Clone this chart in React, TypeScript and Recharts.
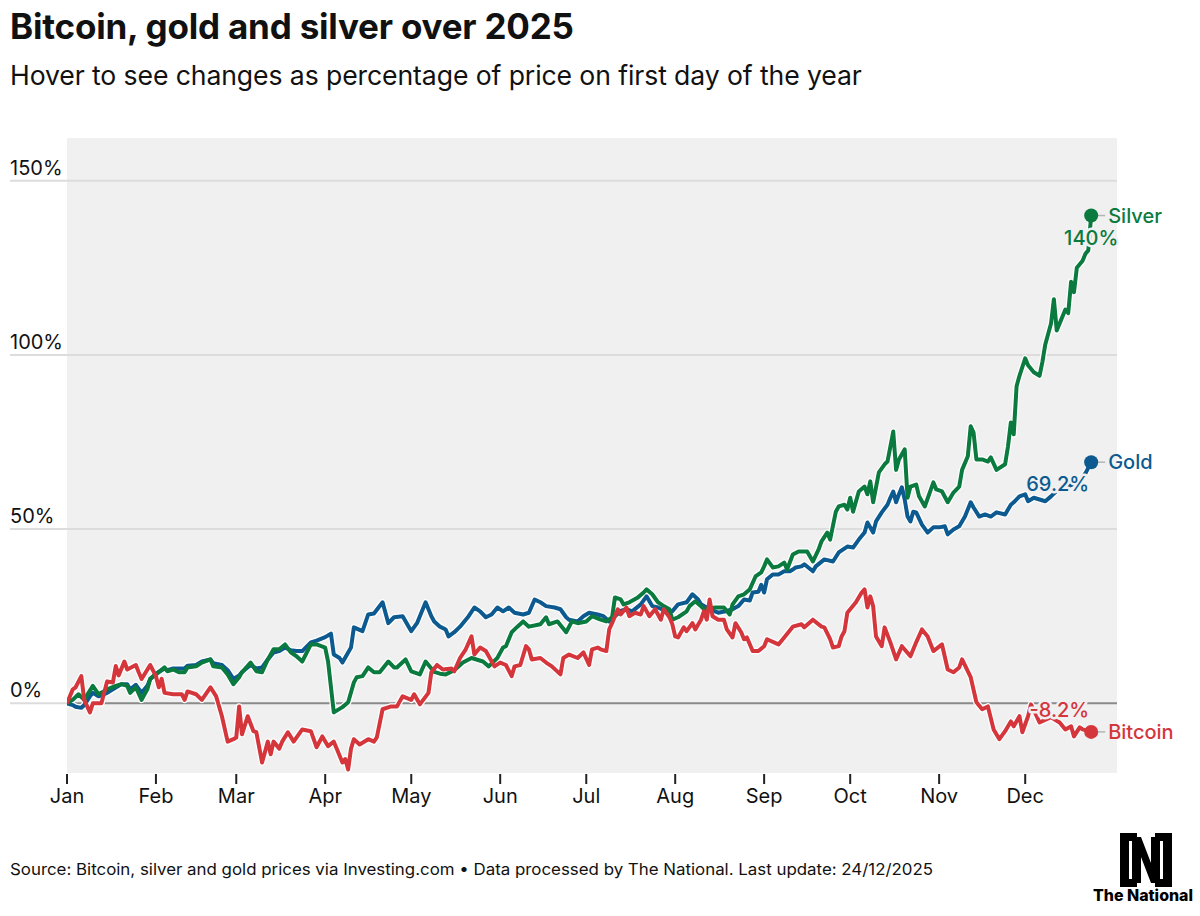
import React from 'react';
import { LineChart, Line, XAxis, YAxis, CartesianGrid, ReferenceLine, ReferenceDot } from 'recharts';

// ---------- DATA (day 0 = 1 Jan 2025; values = % change vs first day) ----------
const monthTicks = [0, 31, 59, 90, 120, 151, 181, 212, 243, 273, 304, 334];
const monthLabels = ['Jan', 'Feb', 'Mar', 'Apr', 'May', 'Jun', 'Jul', 'Aug', 'Sep', 'Oct', 'Nov', 'Dec'];
const yTicks = [0, 50, 100, 150];

const bitcoinDays = [0,2,3,5,6,8,9,12,14,16,17,18,20,21,24,25,26,29,31,32,33,34,37,40,41,42,45,47,50,52,54,56,58,59,60,61,63,65,66,68,70,71,72,74,75,77,79,82,85,87,89,91,93,94,96,97,98,99,100,102,105,107,108,110,113,115,117,120,121,123,126,127,129,131,134,135,137,139,141,142,144,146,149,151,153,155,156,158,160,161,162,165,167,169,172,173,175,178,180,182,183,185,186,188,189,190,192,193,195,196,198,200,201,203,205,207,208,210,211,212,213,215,216,218,219,221,222,223,224,225,227,229,230,232,233,235,236,237,239,241,243,244,248,250,253,256,257,260,263,264,266,267,269,270,271,272,275,277,278,279,280,281,282,284,285,287,289,291,294,296,298,300,302,305,307,309,311,312,315,317,319,321,323,325,327,329,330,332,333,335,336,338,339,343,346,348,350,351,353,354,357];
const bitcoinValues = [0,4,4.6,7.8,1,-2.6,0,0,6.3,6,10.7,8,12,9.7,11,8.9,7,11,7.8,4.6,7,3,2.6,2.6,1,3.4,2.6,1,4.6,2,-3.7,-11,-10.3,-9.8,-0.9,-8.9,-3.7,-8,-8.3,-17,-11,-14.6,-11,-13,-11,-8.3,-11,-7.5,-8,-12.6,-9.5,-12.3,-11,-13,-17,-16,-19,-13,-10.3,-11.8,-10.3,-11,-9.8,-1.7,-0.9,-0.9,2,1,2.6,-0.3,3,8.9,11,9.7,10,9.2,13,15.5,19.2,14,16,15,10.6,11.7,11,7.8,10.6,11,16.4,15.5,12.6,13,11.7,10.6,8.3,13,14,13,14.6,11,15.5,16,15.5,15,21.2,23,27,25.5,27.5,25,26,25.5,27.9,25,27,24,27,24.7,22.7,19.2,18.9,21.8,20.7,23,21.2,24,26.4,24,29.8,25,24,24,21.2,18.9,23,20.4,18.4,18.9,15,15,16.4,18.4,16.9,18.9,22,22.7,21.8,24,22,21.8,18.4,16,16.4,19.2,20.7,26,29,31.8,32.7,27.5,30.7,27.9,19.2,16.4,21.8,17.5,12.6,16.4,13.5,17.5,21.2,19.2,15,16.9,9.7,8.9,10.3,12.6,7.5,0.3,-1.7,-0.9,-7.5,-10.3,-8,-5.2,-6.6,-3.7,-8.3,-3.7,-0.3,-3.7,-5.5,-4,-5.5,-7.5,-6.6,-9.5,-6.9,-7.5,-8.2];

const silverDays = [0,2,4,6,9,11,14,17,19,21,22,24,26,28,29,31,34,35,37,39,41,42,45,47,50,51,54,56,58,60,61,64,66,68,70,72,74,76,78,80,82,85,87,90,91,93,96,98,100,101,103,105,107,109,112,114,115,118,120,123,125,128,130,132,135,138,141,145,147,150,152,153,155,157,159,161,165,167,168,171,174,176,178,181,183,186,188,190,191,193,194,196,199,201,202,204,206,208,210,211,213,216,217,219,221,222,226,229,231,232,234,236,238,240,242,243,244,246,248,250,251,253,255,258,260,262,263,265,266,268,269,271,272,273,274,276,278,279,280,281,283,285,286,287,288,289,290,292,293,294,296,297,299,302,303,305,307,309,311,312,314,315,316,317,319,321,322,324,327,328,329,330,331,332,334,335,337,339,340,341,343,344,345,347,348,349,350,351,352,354,355,356,357];
const silverValues = [0,1,2.6,1,5,2.6,4,5,5.5,5,3,4.6,1,4,7,8.3,10.3,9.2,9.7,8.9,8.9,10.3,10.6,11.7,12.6,10.6,10.3,8.3,5.5,7.5,8.9,11.7,9.2,8.9,12.6,15.5,15.5,16.9,14.6,13.5,12,16.9,16.9,16,12,-2.6,-1.1,0.3,6,7.5,7.8,10.3,8.9,8.9,12,10.3,10.3,12.6,9.2,8.3,12,9,8.5,8.3,9.5,11.7,13,12,10.6,13,16,16.4,20.4,22,23.5,22,22.7,24.7,22.7,23.5,20.4,23.5,23,23.5,25,24,23.5,24.7,30.4,29.8,28.4,29,30.4,31.8,32.7,31.3,29,27.9,27,24,24.7,26.4,27.9,29.3,27.9,27,27.5,27.5,25.5,28.4,30.7,31.3,32.7,36.4,37.6,39.3,41.3,39,39.3,40.4,38.4,42.7,43.6,43.6,40.7,44.2,46.5,49,47,55,56.5,57,55.6,59,55,60.8,62.2,60,63.7,57.7,66.3,68.6,69.4,73.7,78,67,70,72.9,59,62.2,62.8,59.4,56.5,63.4,61.4,60.8,57.7,60.5,62.2,67,70.9,79.5,77.7,70,70,69.4,70.6,67,68.6,73.7,80.6,77.2,91,94,99,97,95,94,98,103,109,116,107,111,113,112,121,118,125,127,129,130,140];

const goldDays = [0,2,3,5,6,8,9,11,14,17,19,21,22,24,26,28,29,31,34,35,37,39,41,42,45,47,50,51,54,56,58,60,61,64,66,68,70,72,74,76,78,80,82,85,87,90,91,92,93,95,96,99,100,103,105,107,110,112,114,117,120,122,125,127,128,130,132,133,135,137,140,142,144,146,148,150,152,154,156,159,161,163,165,167,170,172,174,175,178,180,182,185,187,189,191,193,195,197,200,202,204,206,209,211,213,216,218,220,221,224,227,230,232,234,236,238,239,241,242,243,244,246,248,250,252,253,254,256,257,260,261,264,267,269,272,274,276,278,279,281,282,284,286,287,288,289,290,291,292,293,294,295,296,298,300,302,304,306,307,309,311,313,315,316,318,320,322,324,327,329,330,332,334,335,337,339,341,343,345,348,351,353,355,357];
const goldValues = [0,-0.5,-1,-1.3,-0.5,2,3,2,3,4.5,5.5,5.5,4,5.3,3,5,7,8.5,10,9.5,10,10,10,10.8,11,12,12.6,11.5,11,9.5,7,8,9,11,10,10.3,12.6,14.6,15,16,15.2,15,15,17.5,18,19,19.5,20,14,13,11.7,16,21.8,20.7,25.5,25.8,29,23,24.7,25,20.7,23,29,25,23.5,22,21.2,19.2,20.4,22,25,27.5,26.4,24.7,25.5,27.5,26.4,27.5,26,25.5,26,29.8,29,27.9,27.5,27,24.7,24,23.5,25,26,25.5,25,23.5,25,26.5,27,26.4,28.4,30.7,27.9,27.5,26.4,26.4,28.4,29,31.3,29.8,28.4,27,26,26.5,27,27.9,29.8,29.5,31.8,32,34,31.8,35.6,37,37,37.9,37.9,38.4,39,39.3,39.9,37.9,39.3,41.3,40.7,43.3,45,44.7,47,49,51.9,49,52.2,54.8,57,59,60.8,57.7,60,62,58.5,53.6,52.2,55,54.8,51.3,49,50.5,50.5,50.8,48.5,49.9,50.8,53.6,57.7,56.2,53.6,54.2,53.6,54.8,54.2,57,57.7,59.4,60,58,59,58.5,58,59.4,61,62,63,64,66,69.2];

// ---------- STYLE ----------
const FONT = 'Inter, "Noto Sans", Arial, sans-serif';
const BG = '#f0f0f0';
const SILVER = '#0b7a3e';
const GOLD = '#0c5a8f';
const BITCOIN = '#d5363c';
const TEXT = '#111111';
const PLOT_BOTTOM = 773;

const toRows = (days: number[], values: number[]) => days.map((d, i) => ({ day: d, v: values[i] }));
const bitcoinData = toRows(bitcoinDays, bitcoinValues);
const silverData = toRows(silverDays, silverValues);
const goldData = toRows(goldDays, goldValues);

const fmtPct = (v: number) => `${v}%`;

type LabelPos = 'below-center' | 'below-left' | 'above-left';

const EndMarker = (props: any) => {
  const { cx, cy, name, color, value, pos } = props;
  if (cx == null || cy == null) return <g />;
  let tx = cx, ty = cy + 29, anchor: 'middle' | 'end' = 'middle';
  if (pos === 'below-left') { tx = cx - 2; ty = cy + 29; anchor = 'end'; }
  if (pos === 'above-left') { tx = cx - 2; ty = cy - 15; anchor = 'end'; }
  return (
    <g>
      <line x1={cx + 6} x2={cx + 14} y1={cy} y2={cy} stroke="#b5b5b5" strokeWidth={1.5} />
      <circle cx={cx} cy={cy} r={7} fill={color} stroke="none" />
      <text x={tx} y={ty} textAnchor={anchor} fontFamily={FONT} fontWeight={500} fontSize={20} fill={color}
        stroke={BG} strokeWidth={5} strokeLinejoin="round" style={{ paintOrder: 'stroke' }}>
        {fmtPct(value)}
      </text>
      <text x={cx + 17} y={cy + 7} fontFamily={FONT} fontWeight={500} fontSize={20} fill={color}>{name}</text>
    </g>
  );
};

const XTick = (props: any) => {
  const { x, payload } = props;
  const i = monthTicks.indexOf(payload.value);
  return (
    <g>
      <line x1={x} x2={x} y1={PLOT_BOTTOM + 1} y2={PLOT_BOTTOM + 11} stroke="#222" strokeWidth={2} />
      <text x={x} y={PLOT_BOTTOM + 30} textAnchor="middle" fontFamily={FONT} fontSize={20} fill={TEXT}>
        {monthLabels[i]}
      </text>
    </g>
  );
};

const YTick = (props: any) => {
  const { y, payload } = props;
  return (
    <g>
      <line x1={10} x2={67} y1={y} y2={y} stroke="#dcdcdc" strokeWidth={2} />
      <text x={10} y={y - 6} textAnchor="start" fontFamily={FONT} fontSize={20} fill={TEXT}>
        {fmtPct(payload.value)}
      </text>
    </g>
  );
};

const series = [
  { key: 'gold', name: 'Gold', color: GOLD, data: goldData, days: goldDays, values: goldValues, pos: 'below-left' as LabelPos },
  { key: 'silver', name: 'Silver', color: SILVER, data: silverData, days: silverDays, values: silverValues, pos: 'below-center' as LabelPos },
  { key: 'bitcoin', name: 'Bitcoin', color: BITCOIN, data: bitcoinData, days: bitcoinDays, values: bitcoinValues, pos: 'above-left' as LabelPos },
];

const Logo = () => (
  <g>
    <path d="M1120,833 H1137 V841 H1129 V879 H1137 V887 H1120 Z" fill="#000" />
    <path d="M1172,833 H1155 V841 H1163 V879 H1155 V887 H1172 Z" fill="#000" />
    <path d="M1132,837 H1141 L1151,863 V837 H1160 V883 H1151 L1141,857 V883 H1132 Z" fill="#000" />
    <text x={1093} y={901} fontFamily={FONT} fontWeight={800} fontSize={16} fill="#000"
      textLength={100} lengthAdjust="spacingAndGlyphs">The National</text>
  </g>
);

export default function App() {
  return (
    <div style={{ position: 'absolute', left: 0, top: 0, width: 1200, height: 916, background: '#fff', overflow: 'hidden' }}>
      <svg width={1200} height={916} style={{ position: 'absolute', left: 0, top: 0 }}>
        <text x={10} y={39} fontFamily={FONT} fontWeight={700} fontSize={35} fill={TEXT} letterSpacing={-0.2}>
          Bitcoin, gold and silver over 2025
        </text>
        <text x={10} y={85} fontFamily={FONT} fontSize={26.6} fill={TEXT} letterSpacing={-0.1}>
          Hover to see changes as percentage of price on first day of the year
        </text>
        <text x={10} y={875} fontFamily={FONT} fontSize={16} fill={TEXT} textLength={923} lengthAdjust="spacingAndGlyphs">
          Source: Bitcoin, silver and gold prices via Investing.com • Data processed by The National. Last update: 24/12/2025
        </text>
        <Logo />
      </svg>
      <div style={{ position: 'absolute', left: 0, top: 0 }}>
        <LineChart width={1200} height={916} margin={{ top: 138, right: 83, bottom: 103, left: 10 }}>
          <CartesianGrid vertical={false} horizontal={false} stroke="none" fill={BG} />
          <XAxis type="number" dataKey="day" domain={[0, 366]} ticks={monthTicks} allowDataOverflow
            axisLine={false} tickLine={false} tick={<XTick />} height={40} interval={0} />
          <YAxis type="number" domain={[-20, 162.25]} ticks={yTicks} allowDataOverflow width={57}
            axisLine={false} tickLine={false} tick={<YTick />} interval={0} />
          {yTicks.map((t) => (
            <ReferenceLine key={`g${t}`} y={t} stroke={t === 0 ? '#8a8a8a' : '#dcdcdc'} strokeWidth={2} />
          ))}
          {series.map((s) => (
            <Line key={`c-${s.key}`} data={s.data} dataKey="v" type="linear" stroke="#ffffff"
              strokeWidth={6.5} dot={false} activeDot={false} isAnimationActive={false} strokeLinejoin="round" />
          ))}
          {series.map((s) => (
            <Line key={s.key} data={s.data} dataKey="v" type="linear" stroke={s.color} strokeWidth={4}
              strokeLinejoin="round" dot={false} activeDot={false} isAnimationActive={false} />
          ))}
          {series.map((s) => (
            <ReferenceDot key={`d-${s.key}`} x={s.days[s.days.length - 1]} y={s.values[s.values.length - 1]}
              r={7} ifOverflow="visible"
              shape={(p: any) => <EndMarker {...p} name={s.name} color={s.color} value={s.values[s.values.length - 1]} pos={s.pos} />} />
          ))}
        </LineChart>
      </div>
    </div>
  );
}
